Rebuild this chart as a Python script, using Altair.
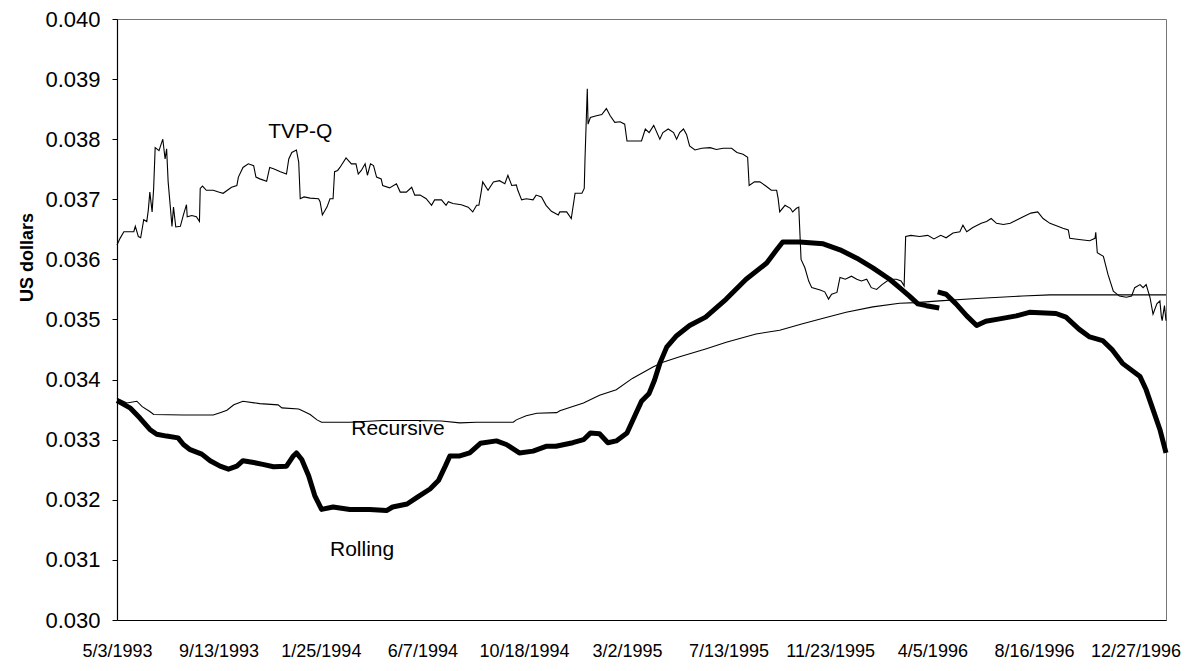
import altair as alt
import pandas as pd

# ---------------- data ----------------
tvp_dates = [
    "1993-05-03", "1993-05-07", "1993-05-12", "1993-05-25", "1993-05-27", "1993-05-31",
    "1993-06-03", "1993-06-07", "1993-06-11", "1993-06-13", "1993-06-15", "1993-06-18",
    "1993-06-20", "1993-06-22", "1993-06-27", "1993-07-02", "1993-07-05", "1993-07-07",
    "1993-07-09", "1993-07-12", "1993-07-14", "1993-07-16", "1993-07-19", "1993-07-25",
    "1993-07-29", "1993-08-02", "1993-08-03", "1993-08-09", "1993-08-15", "1993-08-19",
    "1993-08-20", "1993-08-23", "1993-08-28", "1993-09-06", "1993-09-13", "1993-09-19",
    "1993-09-30", "1993-10-07", "1993-10-09", "1993-10-15", "1993-10-22", "1993-10-29",
    "1993-11-01", "1993-11-06", "1993-11-15", "1993-11-19", "1993-11-24", "1993-12-03",
    "1993-12-11", "1993-12-14", "1993-12-18", "1993-12-24", "1993-12-27", "1993-12-29",
    "1994-01-03", "1994-01-11", "1994-01-22", "1994-01-24", "1994-01-27", "1994-02-02",
    "1994-02-06", "1994-02-10", "1994-02-12", "1994-02-16", "1994-02-19", "1994-02-27",
    "1994-03-06", "1994-03-12", "1994-03-15", "1994-03-19", "1994-03-24", "1994-03-27",
    "1994-03-31", "1994-04-04", "1994-04-08", "1994-04-14", "1994-04-16", "1994-04-25",
    "1994-05-04", "1994-05-09", "1994-05-17", "1994-05-24", "1994-05-28", "1994-06-04",
    "1994-06-12", "1994-06-19", "1994-06-23", "1994-07-02", "1994-07-08", "1994-07-11",
    "1994-07-17", "1994-07-28", "1994-08-06", "1994-08-12", "1994-08-17", "1994-08-20",
    "1994-08-23", "1994-08-25", "1994-09-01", "1994-09-08", "1994-09-16", "1994-09-23",
    "1994-09-27", "1994-10-02", "1994-10-08", "1994-10-10", "1994-10-15", "1994-10-21",
    "1994-10-30", "1994-11-03", "1994-11-10", "1994-11-16", "1994-11-23", "1994-12-02",
    "1994-12-04", "1994-12-13", "1994-12-19", "1994-12-24", "1995-01-02", "1995-01-05",
    "1995-01-06", "1995-01-09", "1995-01-10", "1995-01-13", "1995-01-21", "1995-01-28",
    "1995-02-03", "1995-02-08", "1995-02-14", "1995-02-21", "1995-02-27", "1995-03-02",
    "1995-03-08", "1995-03-21", "1995-03-26", "1995-03-31", "1995-04-06", "1995-04-14",
    "1995-04-18", "1995-04-25", "1995-05-02", "1995-05-06", "1995-05-10", "1995-05-15",
    "1995-05-19", "1995-05-23", "1995-05-30", "1995-06-08", "1995-06-19", "1995-06-27",
    "1995-07-06", "1995-07-17", "1995-07-24", "1995-08-01", "1995-08-07", "1995-08-09",
    "1995-08-16", "1995-08-23", "1995-08-30", "1995-09-07", "1995-09-14", "1995-09-16",
    "1995-09-18", "1995-09-25", "1995-10-02", "1995-10-05", "1995-10-10", "1995-10-13",
    "1995-10-16", "1995-10-21", "1995-10-26", "1995-10-30", "1995-11-10", "1995-11-16",
    "1995-11-21", "1995-11-25", "1995-12-02", "1995-12-06", "1995-12-13", "1995-12-21",
    "1995-12-28", "1996-01-03", "1996-01-10", "1996-01-16", "1996-01-23", "1996-01-30",
    "1996-02-09", "1996-02-18", "1996-02-24", "1996-02-28", "1996-03-01", "1996-03-08",
    "1996-03-19", "1996-03-30", "1996-04-07", "1996-04-16", "1996-04-23", "1996-05-02",
    "1996-05-11", "1996-05-15", "1996-05-20", "1996-05-28", "1996-06-08", "1996-06-15",
    "1996-06-21", "1996-06-28", "1996-07-07", "1996-07-16", "1996-08-02", "1996-08-12",
    "1996-08-21", "1996-08-28", "1996-09-06", "1996-09-23", "1996-09-30", "1996-10-02",
    "1996-10-14", "1996-10-28", "1996-11-04", "1996-11-05", "1996-11-07", "1996-11-15",
    "1996-11-21", "1996-11-28", "1996-12-06", "1996-12-15", "1996-12-22", "1996-12-26",
    "1997-01-02", "1997-01-06", "1997-01-10", "1997-01-15", "1997-01-19", "1997-01-24",
    "1997-01-28", "1997-01-30", "1997-01-31", "1997-02-03", "1997-02-05",
]
tvp_values = [
    0.03624, 0.03635, 0.03646, 0.03646, 0.03655, 0.03638,
    0.03636, 0.03666, 0.03663, 0.03682, 0.03712, 0.03679,
    0.03718, 0.03786, 0.03781, 0.03800, 0.03767, 0.03784,
    0.03729, 0.03685, 0.03655, 0.03687, 0.03654, 0.03655,
    0.03674, 0.03691, 0.03671, 0.03673, 0.03671, 0.03663,
    0.03718, 0.03722, 0.03715, 0.03715, 0.03712, 0.03710,
    0.03720, 0.03723, 0.03737, 0.03753, 0.03759, 0.03756,
    0.03737, 0.03734, 0.03730, 0.03753, 0.03751, 0.03746,
    0.03742, 0.03767, 0.03778, 0.03782, 0.03762, 0.03701,
    0.03704, 0.03702, 0.03701, 0.03696, 0.03674, 0.03687,
    0.03701, 0.03701, 0.03746, 0.03748, 0.03753, 0.03769,
    0.03759, 0.03759, 0.03742, 0.03748, 0.03759, 0.03740,
    0.03759, 0.03756, 0.03737, 0.03734, 0.03723, 0.03719,
    0.03726, 0.03712, 0.03712, 0.03720, 0.03707, 0.03707,
    0.03701, 0.03690, 0.03699, 0.03699, 0.03690, 0.03696,
    0.03693, 0.03691, 0.03687, 0.03679, 0.03690, 0.03690,
    0.03712, 0.03729, 0.03715, 0.03729, 0.03731, 0.03726,
    0.03740, 0.03723, 0.03724, 0.03715, 0.03699, 0.03701,
    0.03699, 0.03707, 0.03704, 0.03690, 0.03680, 0.03674,
    0.03679, 0.03679, 0.03668, 0.03710, 0.03710, 0.03718,
    0.03767, 0.03884, 0.03825, 0.03836, 0.03839, 0.03841,
    0.03851, 0.03839, 0.03828, 0.03829, 0.03825, 0.03797,
    0.03797, 0.03797, 0.03817, 0.03811, 0.03823, 0.03800,
    0.03811, 0.03817, 0.03811, 0.03800, 0.03811, 0.03817,
    0.03808, 0.03789, 0.03782, 0.03785, 0.03786, 0.03783,
    0.03785, 0.03785, 0.03778, 0.03775, 0.03770, 0.03723,
    0.03729, 0.03729, 0.03723, 0.03715, 0.03715, 0.03701,
    0.03679, 0.03690, 0.03685, 0.03679, 0.03685, 0.03687,
    0.03600, 0.03586, 0.03564, 0.03553, 0.03549, 0.03546,
    0.03534, 0.03542, 0.03545, 0.03570, 0.03567, 0.03572,
    0.03567, 0.03564, 0.03567, 0.03553, 0.03550, 0.03558,
    0.03567, 0.03567, 0.03564, 0.03556, 0.03638, 0.03640,
    0.03638, 0.03640, 0.03634, 0.03640, 0.03636, 0.03644,
    0.03646, 0.03657, 0.03646, 0.03653, 0.03660, 0.03663,
    0.03668, 0.03660, 0.03658, 0.03660, 0.03671, 0.03677,
    0.03679, 0.03668, 0.03660, 0.03652, 0.03649, 0.03635,
    0.03633, 0.03631, 0.03635, 0.03645, 0.03611, 0.03605,
    0.03575, 0.03547, 0.03539, 0.03537, 0.03539, 0.03553,
    0.03558, 0.03553, 0.03558, 0.03537, 0.03509, 0.03526,
    0.03531, 0.03504, 0.03498, 0.03523, 0.03498,
]

rec_dates = [
    "1993-05-03", "1993-05-16", "1993-05-29", "1993-06-05", "1993-06-15", "1993-06-20",
    "1993-07-29", "1993-09-06", "1993-09-15", "1993-09-24", "1993-10-03", "1993-10-15",
    "1993-11-06", "1993-11-30", "1993-12-05", "1993-12-27", "1994-01-03", "1994-01-11",
    "1994-01-20", "1994-01-26", "1994-03-04", "1994-04-16", "1994-05-30", "1994-07-02",
    "1994-07-26", "1994-08-17", "1994-10-04", "1994-10-08", "1994-10-21", "1994-11-04",
    "1994-11-30", "1994-12-04", "1995-01-04", "1995-01-25", "1995-02-16", "1995-03-09",
    "1995-04-05", "1995-04-18", "1995-05-10", "1995-06-13", "1995-07-10", "1995-08-18",
    "1995-09-18", "1995-10-18", "1995-11-14", "1995-12-14", "1996-01-18", "1996-02-22",
    "1996-03-15", "1996-04-14", "1996-06-02", "1996-08-01", "1996-09-06", "1997-02-05",
]
rec_values = [
    0.03369, 0.03361, 0.03364, 0.03355, 0.03347, 0.03342,
    0.03341, 0.03341, 0.03345, 0.03349, 0.03358, 0.03364,
    0.03360, 0.03358, 0.03353, 0.03351, 0.03347, 0.03342,
    0.03333, 0.03329, 0.03329, 0.03332, 0.03332, 0.03331,
    0.03328, 0.03329, 0.03329, 0.03333, 0.03340, 0.03344,
    0.03345, 0.03348, 0.03361, 0.03374, 0.03383, 0.03402,
    0.03421, 0.03429, 0.03438, 0.03451, 0.03462, 0.03476,
    0.03482, 0.03493, 0.03502, 0.03512, 0.03521, 0.03527,
    0.03528, 0.03531, 0.03535, 0.03539, 0.03541, 0.03541,
]

roll_dates = [
    "1993-05-03", "1993-05-20", "1993-06-02", "1993-06-15", "1993-06-24", "1993-07-07",
    "1993-07-22", "1993-07-29", "1993-08-06", "1993-08-22", "1993-09-02", "1993-09-15",
    "1993-09-26", "1993-10-07", "1993-10-15", "1993-10-29", "1993-11-10", "1993-11-24",
    "1993-12-11", "1993-12-20", "1993-12-24", "1993-12-31", "1994-01-09", "1994-01-17",
    "1994-01-26", "1994-02-10", "1994-03-04", "1994-03-30", "1994-04-21", "1994-04-29",
    "1994-05-18", "1994-05-31", "1994-06-17", "1994-06-28", "1994-07-07", "1994-07-13",
    "1994-07-26", "1994-08-08", "1994-08-22", "1994-09-12", "1994-09-25", "1994-10-12",
    "1994-10-30", "1994-11-16", "1994-11-29", "1994-12-21", "1995-01-04", "1995-01-13",
    "1995-01-25", "1995-02-05", "1995-02-16", "1995-03-02", "1995-03-12", "1995-03-21",
    "1995-03-31", "1995-04-07", "1995-04-14", "1995-04-23", "1995-05-06", "1995-05-23",
    "1995-06-13", "1995-07-10", "1995-08-05", "1995-09-01", "1995-09-14", "1995-09-22",
    "1995-10-14", "1995-11-14", "1995-12-06", "1995-12-28", "1996-01-18", "1996-02-09",
    "1996-02-22", "1996-03-06", "1996-03-17", "1996-03-28", "1996-04-14",
    "1996-04-12", "1996-04-23", "1996-05-06", "1996-05-20", "1996-06-02", "1996-06-14",
    "1996-07-02", "1996-07-24", "1996-08-10", "1996-09-14", "1996-09-27", "1996-10-14",
    "1996-10-28", "1996-11-14", "1996-11-27", "1996-12-10", "1997-01-02", "1997-01-10",
    "1997-01-19", "1997-01-28", "1997-02-05",
]
roll_values = [
    0.03365, 0.03353, 0.03336, 0.03317, 0.03309, 0.03306,
    0.03303, 0.03292, 0.03284, 0.03276, 0.03265, 0.03256,
    0.03251, 0.03256, 0.03265, 0.03262, 0.03259, 0.03255,
    0.03256, 0.03273, 0.03278, 0.03267, 0.03240, 0.03207,
    0.03184, 0.03188, 0.03184, 0.03184, 0.03182, 0.03188,
    0.03193, 0.03204, 0.03218, 0.03232, 0.03256, 0.03273,
    0.03273, 0.03278, 0.03294, 0.03298, 0.03292, 0.03278,
    0.03281, 0.03289, 0.03289, 0.03295, 0.03300, 0.03311,
    0.03310, 0.03295, 0.03298, 0.03311, 0.03339, 0.03364,
    0.03377, 0.03399, 0.03427, 0.03454, 0.03473, 0.03490,
    0.03504, 0.03534, 0.03567, 0.03594, 0.03616, 0.03629,
    0.03629, 0.03626, 0.03616, 0.03602, 0.03586, 0.03567,
    0.03553, 0.03539, 0.03526, 0.03523, 0.03519,
    0.03546, 0.03542, 0.03526, 0.03506, 0.03490, 0.03497,
    0.03501, 0.03506, 0.03512, 0.03510, 0.03504, 0.03484,
    0.03471, 0.03465, 0.03449, 0.03427, 0.03405, 0.03383,
    0.03350, 0.03317, 0.03278,
]
roll_segment = [1] * 77 + [2] * 21

label_names = ["TVP-Q", "Recursive", "Rolling"]
label_dates = ["1993-12-29", "1994-05-06", "1994-03-20"]
label_values = [0.03812, 0.03317, 0.03116]

x_tick_dates = [
    (1993, 5, 3), (1993, 9, 13), (1994, 1, 25), (1994, 6, 7), (1994, 10, 18),
    (1995, 3, 2), (1995, 7, 13), (1995, 11, 23), (1996, 4, 5), (1996, 8, 16),
    (1996, 12, 27),
]
y_ticks = [0.030, 0.031, 0.032, 0.033, 0.034, 0.035, 0.036, 0.037, 0.038, 0.039, 0.040]
x_start = (1993, 5, 3)
x_end = (1997, 2, 5)

# ---------------- build tables ----------------
thin_df = pd.concat([
    pd.DataFrame({"date": tvp_dates, "value": tvp_values, "series": "TVP-Q"}),
    pd.DataFrame({"date": rec_dates, "value": rec_values, "series": "Recursive"}),
], ignore_index=True)
roll_df = pd.DataFrame({"date": roll_dates, "value": roll_values, "seg": roll_segment})
lab_df = pd.DataFrame({"date": label_dates, "value": label_values, "label": label_names})

FONT = "Liberation Sans"


def dt(t):
    return alt.DateTime(year=t[0], month=t[1], date=t[2], utc=True)


x_enc = alt.X(
    "date:T",
    scale=alt.Scale(type="utc", domain=[dt(x_start), dt(x_end)], nice=False),
    axis=alt.Axis(
        values=[dt(t) for t in x_tick_dates],
        format="%-m/%-d/%Y",
        title=None,
        ticks=False,
        grid=False,
        domainColor="black",
        domainWidth=1.2,
        labelColor="black",
        labelFont=FONT,
        labelFontSize=18,
        labelPadding=22,
        labelOverlap=False,
        labelFlush=False,
        labelBound=False,
    ),
)
y_enc = alt.Y(
    "value:Q",
    scale=alt.Scale(domain=[0.030, 0.040], nice=False, zero=False),
    axis=alt.Axis(
        values=y_ticks,
        format=".3f",
        title="US dollars",
        titleFont=FONT,
        titleFontSize=18,
        titleFontWeight="bold",
        titleColor="black",
        titleAngle=270,
        titleAlign="center",
        titleBaseline="middle",
        titleX=-90,
        titleY=238,
        grid=False,
        tickSize=5,
        tickColor="black",
        domainColor="black",
        domainWidth=1.2,
        labelColor="black",
        labelFont=FONT,
        labelFontSize=22,
        labelPadding=12,
        labelOverlap=False,
        labelFlush=False,
    ),
)

thin = alt.Chart(thin_df).mark_line(color="black", strokeWidth=1.1).encode(
    x=x_enc, y=y_enc, detail="series:N"
)
thick = alt.Chart(roll_df).mark_line(color="black", strokeWidth=5, strokeJoin="round").encode(
    x=x_enc, y=y_enc, detail="seg:N"
)
labels = alt.Chart(lab_df).mark_text(
    font=FONT, fontSize=21, color="black", align="center", baseline="middle"
).encode(x=x_enc, y=y_enc, text="label:N")

chart = alt.layer(thin, thick, labels).properties(
    width=1049,
    height=601,
    padding={"left": 109, "top": 11, "right": 16, "bottom": 42},
    autosize=alt.AutoSizeParams(type="none"),
    background="white",
).configure_view(stroke="#777777", strokeWidth=1)

chart.save("out.html", embed_options={"renderer": "svg", "actions": False})
